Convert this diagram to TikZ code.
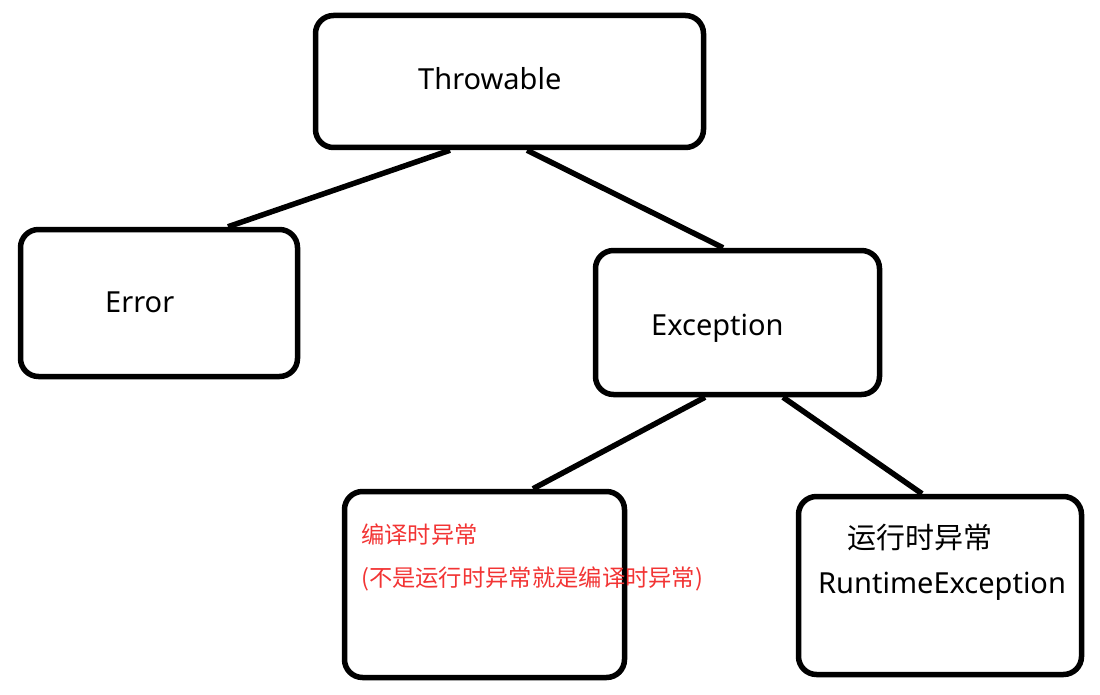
\documentclass[tikz,border=0pt]{standalone}
\usepackage{fontspec}
\setmainfont{Noto Sans}
\newfontfamily\cjk{Noto Sans CJK SC}
\usepackage{tikz}
\definecolor{notered}{RGB}{242,52,52}

\begin{document}
\begin{tikzpicture}[x=1pt, y=-1pt,
    classbox/.style={draw, line width=5.5pt, rounded corners=18pt, inner sep=0pt},
    boxtext/.style={anchor=base west, inner sep=0pt, font=\fontsize{29}{34}\selectfont},
    redtext/.style={anchor=base west, inner sep=0pt, text=notered, font=\cjk\fontsize{23.3}{28}\selectfont},
    link/.style={line width=5.5pt}]
  % Canvas
  \useasboundingbox (0,0) rectangle (1100,695);

  % Class boxes
  \node[classbox, minimum width=388pt, minimum height=132pt] (throw) at (509.5,81.5) {};
  \node[classbox, minimum width=277pt, minimum height=147pt] (err) at (159,303) {};
  \node[classbox, minimum width=284pt, minimum height=144pt] (exc) at (737.5,322.5) {};
  \node[classbox, minimum width=280pt, minimum height=186pt] (checked) at (484.5,584.5) {};
  \node[classbox, minimum width=283pt, minimum height=178pt] (runtime) at (940,585.5) {};

  % Box texts
  \node[boxtext] (throwtext) at (418,90) {Throwable};
  \node[boxtext] (errtext) at (105,312) {Error};
  \node[boxtext] (exctext) at (651,335) {Exception};
  \node[redtext] (checkedone) at (361,543) {编译时异常};
  \node[redtext] (checkedtwo) at (361,586) {(不是运行时异常就是编译时异常)};
  \node[boxtext, font=\cjk\fontsize{29}{34}\selectfont] (runtimeone) at (847,548) {运行时异常};
  \node[boxtext] (runtimetwo) at (818,593) {RuntimeException};

  % Hierarchy links
  \draw[link] ([xshift=-59.5pt]throw.south) -- ([xshift=69pt]err.north);
  \draw[link] ([xshift=17.5pt]throw.south) -- ([xshift=-14.5pt]exc.north);
  \draw[link] ([xshift=-32.5pt]exc.south) -- ([xshift=48.5pt]checked.north);
  \draw[link] ([xshift=45.5pt]exc.south) -- ([xshift=-18pt]runtime.north);
\end{tikzpicture}
\end{document}
